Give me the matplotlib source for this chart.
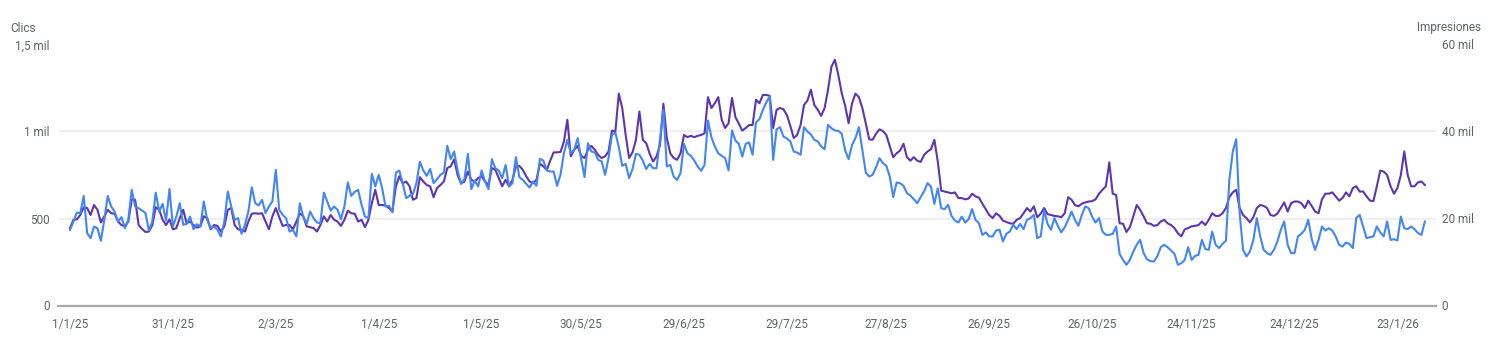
import matplotlib
matplotlib.use('Agg')
import matplotlib.pyplot as plt
import pandas as pd

# daily values, 1/1/25 .. 31/1/26
clics = [
    435, 483, 534, 531, 630, 416, 387, 454, 444, 372, 492, 630, 569, 540, 483, 508, 444, 492, 665, 569,
    559, 546, 531, 431, 483, 649, 540, 584, 488, 670, 454, 511, 588, 464, 469, 511, 439, 467, 454, 598,
    492, 444, 454, 435, 397, 483, 655, 569, 492, 502, 412, 464, 540, 680, 588, 575, 607, 531, 569, 598,
    780, 550, 521, 502, 425,
    435, 397, 588, 511, 469, 540, 502, 477, 473, 649, 598, 546, 569, 550, 496, 569, 707, 630, 653, 665,
    579, 511, 502, 757, 684, 751, 674, 569, 573, 536, 764, 776, 703, 617, 630, 642, 703, 826, 776, 745,
    785, 703, 726, 751, 764, 918, 841, 885, 776, 699, 726, 872, 669, 718, 684, 776, 713, 669, 841, 789,
    776, 732, 808, 684, 703, 853, 738,
    722, 699, 678, 713, 688, 843, 833, 776, 770, 770, 688, 751, 875, 952, 875, 895, 962, 847, 738, 933,
    885, 879, 837, 828, 751, 847, 981, 994, 910, 803, 814, 732, 784, 872, 866, 833, 784, 814, 789, 789,
    952, 1124, 799, 808, 741, 722, 761, 929, 875, 860, 833, 799, 774, 808, 1063, 967, 914, 875, 860, 847,
    776, 1006, 948, 929, 856, 929, 937,
    866, 1052, 1071, 1124, 1167, 1201, 837, 1013, 1025, 971, 960, 943, 885, 879, 866, 1025, 1000, 983, 952, 943,
    914, 898, 1038, 1019, 1006, 1004, 987, 891, 841, 923, 962, 1025, 895, 764, 741, 751, 795, 847, 818, 803,
    741, 623, 707, 703, 688, 646, 632, 611, 588, 623, 655, 703, 684, 584, 674, 559, 554, 579, 515, 488,
    477, 511, 477, 496, 554, 492, 473,
    406, 420, 397, 397, 431, 435, 368, 412, 425, 464, 439, 469, 439, 492, 502, 521, 387, 397, 546, 469,
    435, 502, 458, 420, 450, 492, 540, 492, 458, 521, 569, 559, 511, 477, 502, 425, 406, 406, 412, 454,
    297, 262, 234, 262, 310, 349, 377, 301, 266, 255, 253, 282, 335, 349, 335, 316, 297, 234, 243, 262,
    335, 262, 285, 291, 377, 324, 320,
    425, 349, 330, 354, 372, 722, 885, 956, 531, 320, 282, 310, 377, 502, 397, 320, 301, 291, 320, 368,
    435, 483, 349, 301, 301, 397, 412, 435, 492, 383, 320, 377, 454, 431, 444, 431, 397, 349, 339, 362,
    354, 330, 502, 521, 454, 387, 393, 397, 454, 420, 397, 483, 377, 381, 374, 511, 444, 439, 454, 439,
    416, 406, 483,
]

impresiones = [
    17800, 19700, 19800, 20800, 22600, 22400, 20800, 23100, 22000, 19100, 20500, 22000, 21200, 21100, 19300, 18500, 18200, 19300, 24400, 24300,
    18500, 17600, 16900, 17000, 18500, 22600, 22000, 19700, 18500, 19800, 17500, 17800, 20100, 22000, 18900, 19300, 18500, 17900, 18200, 20500,
    20100, 17500, 18500, 18300, 17000, 18200, 22000, 22400, 18500, 17500, 17400, 17000, 19300, 21100, 21200, 21100, 21200, 19300, 17500, 20500,
    22400, 20300, 18300, 18500, 18500,
    17500, 19300, 21200, 20500, 18200, 18000, 17800, 17000, 18500, 20500, 19300, 20800, 19700, 19300, 18300, 19700, 21800, 21200, 21100, 19300,
    19700, 18000, 19700, 23500, 26600, 23100, 23100, 23000, 22400, 21600, 27400, 29700, 28100, 28500, 27400, 24300, 24700, 29500, 28500, 27700,
    27400, 24900, 27000, 27700, 28500, 31600, 32000, 33600, 30000, 28100, 28500, 30800, 28900, 28500, 29300, 29700, 28500, 27700, 31600, 31200,
    29300, 27400, 28900, 27400, 28900, 32000, 32100,
    31200, 29700, 28500, 28100, 28900, 32600, 32000, 31200, 33300, 35200, 35200, 35300, 37700, 42700, 34300, 35800, 36700, 34400, 33900, 35800,
    36700, 35800, 34600, 33900, 34300, 35400, 40200, 40000, 48700, 45400, 39200, 33900, 35200, 38100, 44600, 38100, 37300, 34900, 33100, 34300,
    36900, 46400, 38500, 35000, 33900, 33500, 35000, 39200, 38700, 39000, 38700, 39000, 39200, 39600, 47900, 45400, 46500, 47900, 42700, 40800,
    41900, 47700, 43300, 41800, 40200, 40800, 41500,
    41500, 47300, 46500, 48400, 48400, 48200, 40800, 45000, 45400, 45100, 43800, 41300, 38500, 39200, 41500, 46100, 47100, 49600, 46100, 45000,
    43600, 45400, 49600, 54900, 56500, 53000, 48800, 45900, 41900, 46500, 48700, 47900, 45400, 41900, 38200, 38100, 39500, 40500, 40100, 39200,
    36600, 34100, 35000, 35600, 37200, 34100, 33300, 34100, 33300, 33000, 34600, 35400, 35900, 38100, 33100, 26400, 26200, 26000, 25800, 26000,
    24700, 24700, 24400, 24600, 25700, 25100, 24800,
    23400, 22100, 20800, 20100, 21200, 20600, 19500, 19200, 18900, 18800, 19700, 20100, 21200, 22400, 21600, 22800, 20300, 21100, 22400, 21000,
    20800, 20600, 20500, 20300, 21200, 24900, 24300, 23100, 22800, 23400, 23700, 23900, 24000, 24400, 25700, 26600, 27400, 32900, 25700, 25400,
    18900, 18800, 16900, 18000, 20500, 23100, 22000, 20500, 18900, 18800, 18300, 18500, 19300, 19700, 18900, 18500, 17800, 16600, 15900, 17500,
    17800, 18200, 18300, 18500, 19300, 18500, 19700,
    21200, 20600, 20600, 21200, 22400, 24900, 26000, 26600, 22400, 20800, 20100, 19100, 20300, 22400, 23100, 22900, 22400, 20800, 20600, 21100,
    22400, 23700, 21600, 23500, 23900, 23900, 23500, 22400, 24100, 22900, 21600, 21200, 24400, 25700, 25700, 26000, 25100, 24100, 24700, 26000,
    25100, 27000, 27400, 26200, 26200, 25100, 24100, 24000, 27400, 31000, 30800, 30000, 27400, 25700, 27000, 30000, 35400, 30000, 27400, 27400,
    28300, 28500, 27700,
]

tick_dates = ['2025-01-01', '2025-01-31', '2025-03-02', '2025-04-01', '2025-05-01', '2025-05-30', '2025-06-29',
              '2025-07-29', '2025-08-27', '2025-09-26', '2025-10-26', '2025-11-24', '2025-12-24', '2026-01-23']
clics_ticks = [0, 500, 1000, 1500]
clics_labels = ['0', '500', '1 mil', '1,5 mil']
impr_ticks = [0, 20000, 40000, 60000]
impr_labels = ['0', '20 mil', '40 mil', '60 mil']

dates = pd.date_range('2025-01-01', periods=len(clics), freq='D')
ticks = pd.to_datetime(tick_dates)
tick_labels = ['%d/%d/%02d' % (d.day, d.month, d.year % 100) for d in ticks]

plt.rcParams['font.family'] = ['Roboto', 'DejaVu Sans']
grey = '#5f6368'

W, H = 1494, 356
fig = plt.figure(figsize=(W / 100, H / 100), dpi=100)
ax = fig.add_axes([58 / W, (H - 305.5) / H, (1436 - 58) / W, (305.5 - 44.5) / H])
ax2 = ax.twinx()

# impressions behind, clicks on top
ax.set_zorder(ax2.get_zorder() + 1)
ax.patch.set_visible(False)

ax2.plot(dates, impresiones, color='#5e35b1', lw=1.5, solid_joinstyle='round')
ax.plot(dates, clics, color='#4285f4', lw=1.5, solid_joinstyle='round')

x0 = dates[0] - pd.Timedelta(hours=3.5 * 24)
x1 = dates[0] + pd.Timedelta(hours=398.25 * 24)
ax.set_xlim(x0, x1)
ax.set_ylim(0, 1500)
ax2.set_ylim(0, 60000)

for v in impr_ticks[1:]:
    ax2.axhline(v, color='#ececec', lw=1.2, zorder=0)

for a in (ax, ax2):
    for s in a.spines.values():
        s.set_visible(False)
ax.spines['bottom'].set_visible(True)
ax.spines['bottom'].set_color('#a8a8a8')
ax.spines['bottom'].set_linewidth(1.6)

ax.set_xticks(ticks)
ax.set_xticklabels(tick_labels)
ax.set_yticks(clics_ticks)
ax.set_yticklabels(clics_labels)
ax2.set_yticks(impr_ticks)
ax2.set_yticklabels(impr_labels)

ax.tick_params(axis='x', length=0, pad=9, labelsize=8.5, labelcolor=grey)
ax.tick_params(axis='y', length=0, pad=6, labelsize=8.5, labelcolor=grey)
ax2.tick_params(axis='y', length=0, pad=4, labelsize=8.5, labelcolor=grey)

fig.text(10 / W, 1 - 28 / H, 'Clics', fontsize=8.5, color=grey, ha='left', va='center')
fig.text(1481 / W, 1 - 28 / H, 'Impresiones', fontsize=8.5, color=grey, ha='right', va='center')

fig.savefig('out.png', dpi=100)
